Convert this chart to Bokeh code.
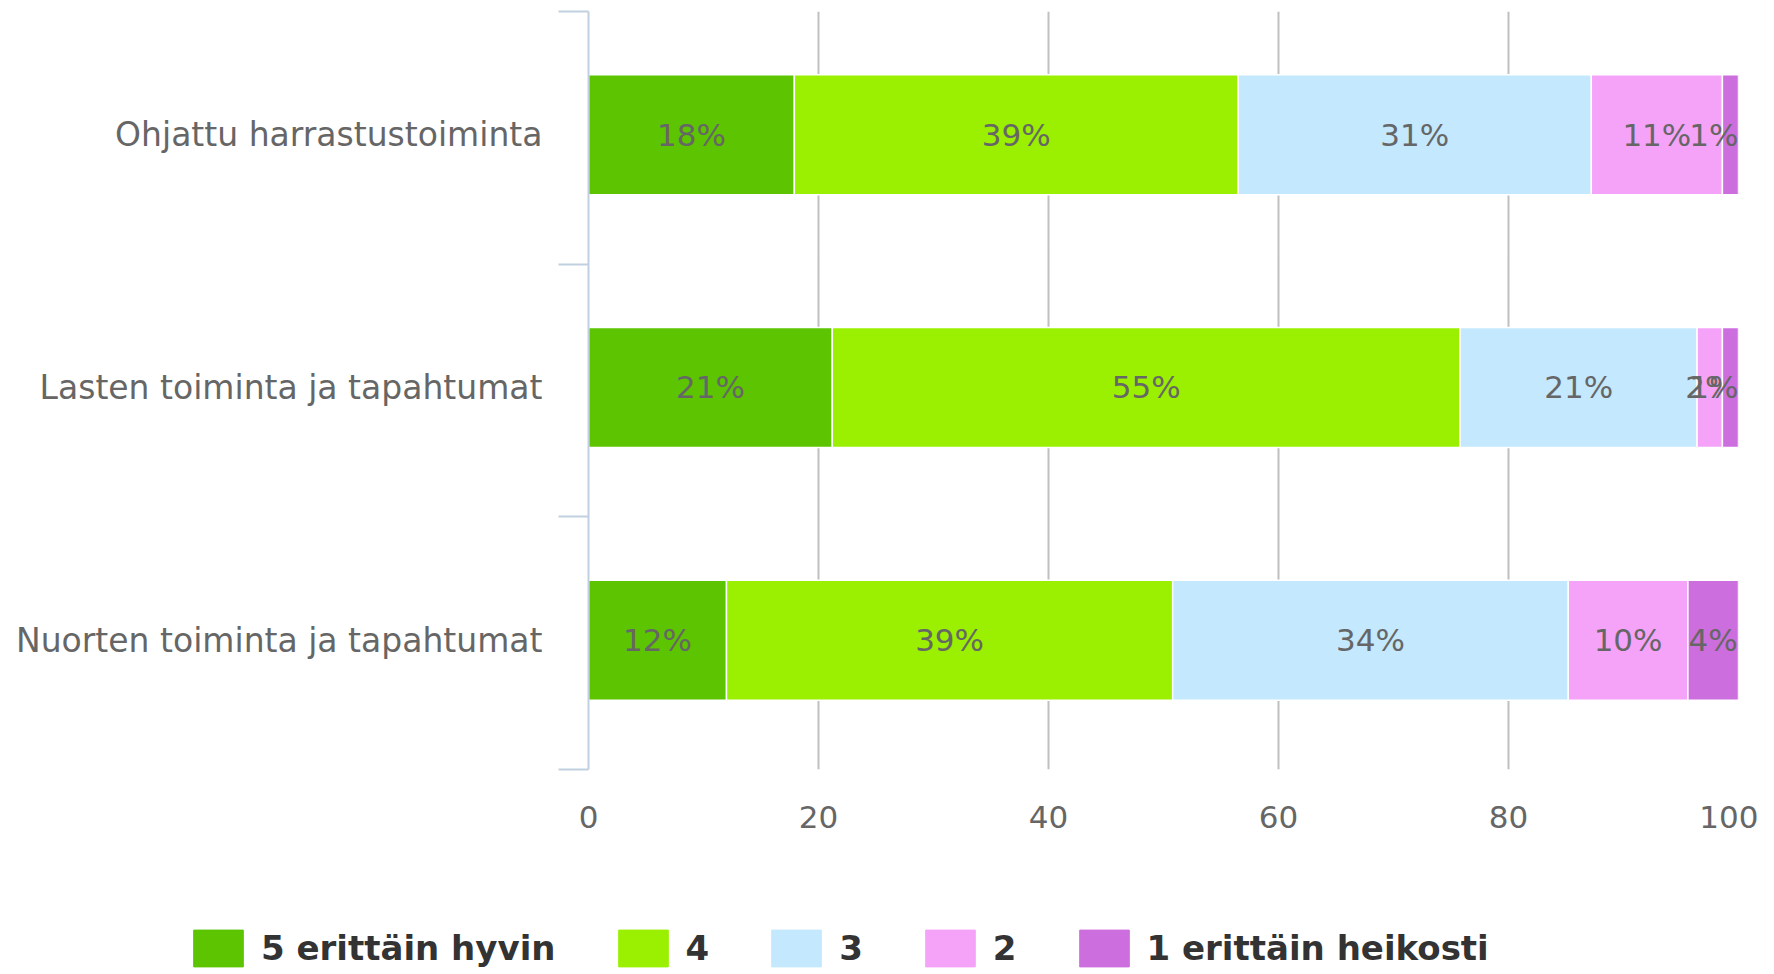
from bokeh.plotting import figure
from bokeh.models import (Range1d, FixedTicker, Legend, LegendItem, ColumnDataSource)
from bokeh.core.properties import value
from bokeh.embed import file_html
from bokeh.resources import INLINE

# ---- data ----
categories = ["Ohjattu harrastustoiminta", "Lasten toiminta ja tapahtumat", "Nuorten toiminta ja tapahtumat"]
series_names = ["5 erittäin hyvin", "4", "3", "2", "1 erittäin heikosti"]
s5 = [17.9, 21.2, 12.0]
s4 = [38.6, 54.6, 38.8]
s3 = [30.7, 20.6, 34.4]
s2 = [11.4, 2.2, 10.4]
s1 = [1.4, 1.4, 4.4]
series_values = [s5, s4, s3, s2, s1]
colors = ["#5cc400", "#9af000", "#c4e8fd", "#f5a3f9", "#cd6edf"]
x_ticks = [0, 20, 40, 60, 80, 100]

FONT = "DejaVu Sans"
LABEL_PX = 31
n = len(categories)
ypos = [n - 0.5 - i + 0.012 for i in range(n)]

FRAME_W = 1150
p = figure(width=1758, height=860, output_backend="svg", toolbar_location=None,
           x_range=Range1d(0, 100), y_range=Range1d(0, n),
           min_border_left=588, min_border_right=20, min_border_top=11, min_border_bottom=91)
p.outline_line_color = None
p.background_fill_color = "white"


def label_x(a, b, txt):
    # keep the label inside the plot area (like a justified data label)
    half = 0.5 * (len(txt) - 1) * 0.636 * LABEL_PX + 0.5 * 0.95 * LABEL_PX
    half_units = half / FRAME_W * 100
    return min((a + b) / 2, 100 - half_units)


left = [0.0] * n
for name, vals, col in zip(series_names, series_values, colors):
    right = [l + v for l, v in zip(left, vals)]
    labs = [f"{v:.0f}%" for v in vals]
    src = ColumnDataSource(dict(y=ypos, left=left, right=right,
                                xm=[label_x(a, b, t) for a, b, t in zip(left, right, labs)],
                                lab=labs))
    p.hbar(y="y", left="left", right="right", height=0.475, source=src,
           fill_color=col, line_color="white", line_width=1.5)
    p.text(x="xm", y="y", text="lab", source=src, text_align="center", text_baseline="middle",
           text_font=value(FONT), text_font_size=f"{LABEL_PX}px", text_color="#666666")
    left = right

# x axis
xa = p.xaxis[0]
xa.ticker = FixedTicker(ticks=x_ticks)
xa.axis_line_color = None
xa.major_tick_line_color = None
xa.minor_tick_line_color = None
xa.major_label_text_font = FONT
xa.major_label_text_font_size = "31px"
xa.major_label_text_color = "#666666"
xa.major_label_standoff = 30

# y axis
ya = p.yaxis[0]
ya.ticker = FixedTicker(ticks=ypos, minor_ticks=list(range(n + 1)))
overrides = {}
for yv, c in zip(ypos, categories):
    overrides[yv] = c
    overrides[str(yv)] = c
ya.major_label_overrides = overrides
ya.axis_line_color = "#c0d0e0"
ya.axis_line_width = 2
ya.major_tick_line_color = None
ya.major_tick_out = 0
ya.minor_tick_line_color = "#c0d0e0"
ya.minor_tick_line_width = 2
ya.minor_tick_out = 30
ya.minor_tick_in = 0
ya.major_label_standoff = 16
ya.major_label_text_font = FONT
ya.major_label_text_font_size = "33px"
ya.major_label_text_color = "#666666"

# grids
p.ygrid.grid_line_color = None
p.xgrid.ticker = FixedTicker(ticks=x_ticks[1:])
p.xgrid.grid_line_color = "#c0c0c0"
p.xgrid.grid_line_width = 2

# legend figure (separate root so its frame spans the full width)
lf = figure(width=1758, height=112, output_backend="svg", toolbar_location=None,
            x_axis_type=None, y_axis_type=None, x_range=Range1d(0, 1), y_range=Range1d(0, 1),
            min_border_left=0, min_border_right=0, min_border_top=0, min_border_bottom=0)
lf.outline_line_color = None
lf.xgrid.visible = False
lf.ygrid.visible = False
items = []
for name, col in zip(series_names, colors):
    r = lf.hbar(y=[-5], left=[0], right=[0.1], height=0.5, fill_color=col, line_color=col)
    items.append(LegendItem(label=name, renderers=[r]))
legend = Legend(items=items, orientation="horizontal", location=(187, 1),
                glyph_width=62, glyph_height=46, label_standoff=12, spacing=56,
                label_text_font=FONT, label_text_font_size="34px", label_text_font_style="bold",
                label_text_color="#333333", padding=0, margin=0,
                border_line_color=None, background_fill_alpha=0)
lf.add_layout(legend, "center")

open("out.html", "w").write(file_html([p, lf], INLINE))
